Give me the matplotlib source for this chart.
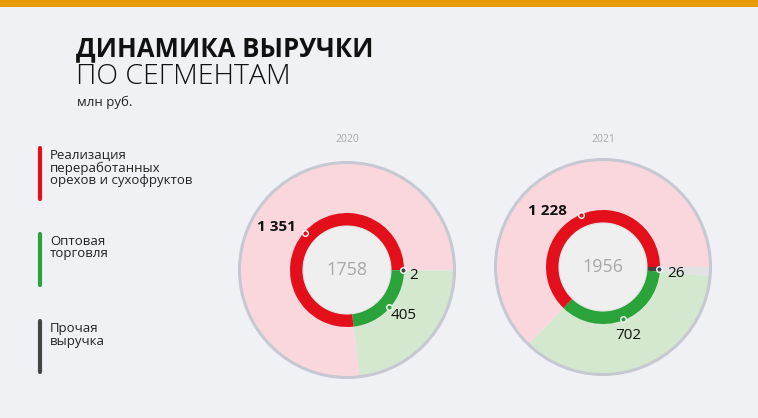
import matplotlib.pyplot as plt
import numpy as np

plt.rcParams['font.family'] = ['Open Sans', 'DejaVu Sans']

years = ['2020', '2021']
segments = ['Реализация\nпереработанных\nорехов и сухофруктов', 'Оптовая\nторговля', 'Прочая\nвыручка']
# values in pie order: other, wholesale, nuts
other = [2, 26]
wholesale = [405, 702]
nuts = [1351, 1228]

W, H = 758, 418
bg = '#F0F1F5'
dark_cols = ['#444444', '#29A33A', '#E3101C']
light_cols = ['#E2E2E4', '#D4E8CF', '#FAD7DD']
legend_cols = ['#E3101C', '#29A33A', '#444444']

centers = [(347, H - 270), (603, H - 267)]
# label offsets (pixels) for other, wholesale, nuts
lab_off = [
    [((6, -5), 'left'), ((2, -8), 'left'), ((-9, 6), 'right')],
    [((8, -4), 'left'), ((6, -16), 'center'), ((-14, 4), 'right')],
]


def fmt(v):
    return f'{v:,}'.replace(',', '\u00a0')


fig = plt.figure(figsize=(W / 100, H / 100), dpi=100)
fig.patch.set_facecolor(bg)
ax = fig.add_axes([0, 0, 1, 1])
ax.set_facecolor(bg)

# top bar
ax.axhspan(H - 7, H, color='#E89C00', lw=0)

# title
ax.text(76, H - 56, 'ДИНАМИКА ВЫРУЧКИ', fontsize=18.5, fontweight='bold', color='#111111', va='baseline')
ax.text(76, H - 84, 'ПО СЕГМЕНТАМ', fontsize=20.5, fontweight='light', color='#111111', va='baseline')
ax.text(77, H - 106, 'млн руб.', fontsize=9.5, color='#222222', va='baseline')

# legend
bar_tops = [147, 233, 320]
for name, col, top in zip(segments, legend_cols, bar_tops):
    ax.plot([40, 40], [H - top - 1, H - top - 52], color=col, lw=3, solid_capstyle='round')
    ax.text(50, H - top - 2, name, fontsize=9.5, color='#222222', va='top', ha='left', linespacing=0.95)

for i, yr in enumerate(years):
    cx, cy = centers[i]
    vals = [other[i], wholesale[i], nuts[i]]
    total = sum(vals)
    ax.text(cx, H - 140, yr, fontsize=7.5, color='#A8A8A8', ha='center', va='center')
    ax.pie(vals, colors=light_cols, radius=107, center=(cx, cy), startangle=0,
           counterclock=False, frame=True, wedgeprops=dict(lw=0))
    ax.add_patch(plt.Circle((cx, cy), 107.5, fill=False, ec='#C6C9D1', lw=2.2, zorder=3))
    ax.pie(vals, colors=dark_cols, radius=57, center=(cx, cy), startangle=0,
           counterclock=False, frame=True, wedgeprops=dict(width=13, lw=0, zorder=4))
    ax.add_patch(plt.Circle((cx, cy), 44, color='#EFEFEF', ec='#E2E2E2', lw=0.8, zorder=5))
    ax.text(cx, cy, str(total), fontsize=13, color='#A8A8A8', ha='center', va='center', zorder=6)

    ang = 0.0
    for j, v in enumerate(vals):
        mid = -(ang + v / 2) / total * 2 * np.pi
        ang += v
        px, py = cx + 56 * np.cos(mid), cy + 56 * np.sin(mid)
        ax.plot(px, py, 'o', ms=4, mfc=dark_cols[j], mec='white', mew=1, zorder=7)
        (dx, dy), ha = lab_off[i][j]
        ax.annotate(fmt(v), (px, py), xytext=(dx, dy), textcoords='offset pixels',
                    ha=ha, va='center', fontsize=11, color='#111111',
                    fontweight='bold' if j == 2 else 'normal', zorder=8)

ax.set_xlim(0, W)
ax.set_ylim(0, H)
ax.set_aspect('equal')
ax.axis('off')
fig.savefig('out.png', dpi=100, facecolor=bg)
